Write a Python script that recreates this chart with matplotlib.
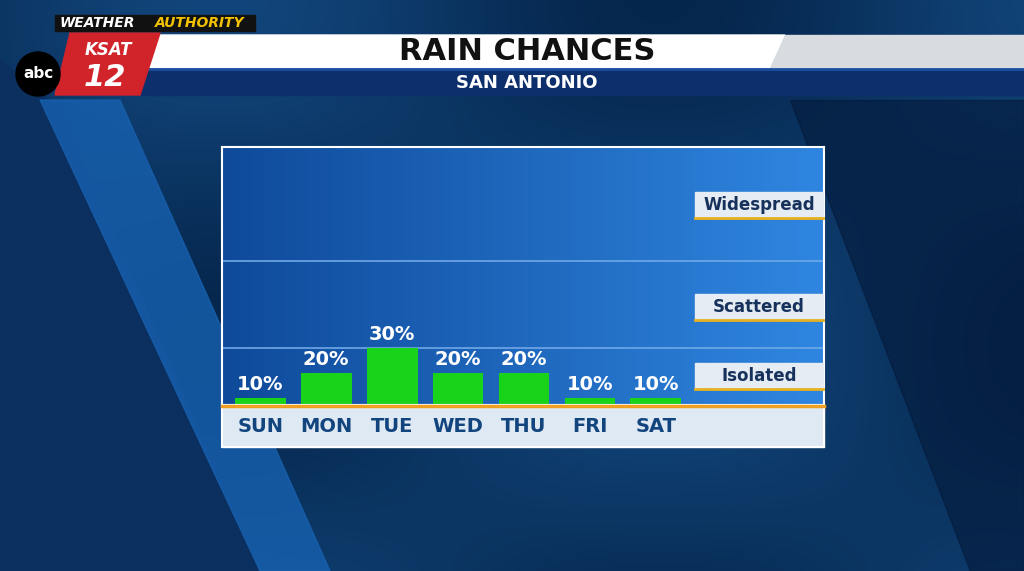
import matplotlib
matplotlib.use("Agg")
import matplotlib.pyplot as plt
import numpy as np
from matplotlib.patches import Rectangle, Polygon

days = ["SUN", "MON", "TUE", "WED", "THU", "FRI", "SAT"]
chances = [10, 20, 30, 20, 20, 10, 10]
labels = [f"{v}%" for v in chances]
bands = [("Isolated", 30), ("Scattered", 65), ("Widespread", 110.4)]

W, H = 1024, 571
fig = plt.figure(figsize=(W/100, H/100), dpi=100)
bg = fig.add_axes([0, 0, 1, 1])
bg.set_xlim(0, W); bg.set_ylim(H, 0); bg.axis("off")
yy, xx = np.mgrid[0:H, 0:W]
g = 0.5 + 0.5*np.sin(xx/140.0)*np.cos(yy/110.0)
img = np.zeros((H, W, 3))
img[..., 0] = 0.02 + 0.05*g
img[..., 1] = 0.15 + 0.12*g
img[..., 2] = 0.30 + 0.18*g
bg.imshow(img, extent=[0, W, H, 0], aspect="auto", zorder=0)
bg.add_patch(Polygon([[0, 60], [60, 110], [260, 571], [0, 571]], color="#0b2f5e", zorder=1))
bg.add_patch(Polygon([[40, 100], [120, 100], [330, 571], [260, 571]], color="#1761b0", alpha=0.8, zorder=1))
bg.add_patch(Polygon([[790, 100], [1024, 100], [1024, 571], [970, 571]], color="#04193a", alpha=0.6, zorder=1))
bg.add_patch(Polygon([[150, 35], [785, 35], [770, 68], [140, 68]], color="white", zorder=2))
bg.add_patch(Polygon([[785, 35], [1024, 35], [1024, 68], [770, 68]], color="#d8dbe0", zorder=2))
bg.add_patch(Rectangle((140, 70), 884, 25, color="#0d2f6b", zorder=2))
bg.plot([140, 1024], [69, 69], color="#1a4f9f", lw=2, zorder=3)
bg.text(527, 52, "RAIN CHANCES", ha="center", va="center", fontsize=22, weight="bold", color="#111", zorder=4)
bg.text(527, 83, "SAN ANTONIO", ha="center", va="center", fontsize=13, weight="bold", color="white", zorder=4)
bg.add_patch(Polygon([[70, 33], [160, 33], [140, 95], [55, 95]], color="#d0232a", zorder=3))
bg.text(108, 50, "KSAT", ha="center", va="center", fontsize=12, weight="bold", style="italic", color="white", zorder=4)
bg.text(105, 78, "12", ha="center", va="center", fontsize=22, weight="bold", style="italic", color="white", zorder=4)
bg.add_patch(plt.Circle((38, 74), 22, color="black", zorder=4))
bg.text(38, 74, "abc", ha="center", va="center", fontsize=11, weight="bold", color="white", zorder=5)
bg.add_patch(Rectangle((55, 15), 200, 16, color="#111", zorder=3))
bg.text(60, 23, "WEATHER", ha="left", va="center", fontsize=10, weight="bold", style="italic", color="white", zorder=4)
bg.text(155, 23, "AUTHORITY", ha="left", va="center", fontsize=10, weight="bold", style="italic", color="#f2c200", zorder=4)

L, R, T, B = 222, 824, 147, 405
ax = fig.add_axes([L/W, 1-B/H, (R-L)/W, (B-T)/H])
ax.set_xlim(-0.58, 8.55); ax.set_ylim(7.2, 110.4)
grad = np.linspace(0, 1, 256).reshape(1, -1)
ax.imshow(grad, extent=[-0.58, 8.55, 7.2, 110.4], aspect="auto",
          cmap=matplotlib.colors.LinearSegmentedColormap.from_list("b", ["#0f4a9a", "#2f86e0"]), zorder=0)
for _, top in bands[:-1]:
    ax.axhline(top, color="#6fa8e8", lw=1.2, zorder=1)
ax.bar(range(len(days)), chances, width=0.77, bottom=0, color="#19d21a", zorder=2)
for i, (v, t) in enumerate(zip(chances, labels)):
    ax.text(i, v + 1.5, t, ha="center", va="bottom", color="white", fontsize=14, weight="bold", zorder=3)
ax.set_xticks([]); ax.set_yticks([])
for s in ax.spines.values():
    s.set_color("white"); s.set_linewidth(1.5)

ov = fig.add_axes([0, 0, 1, 1])
ov.set_xlim(0, W); ov.set_ylim(H, 0); ov.axis("off"); ov.patch.set_alpha(0)
for name, ypos in zip([b[0] for b in bands], [376, 307, 205]):
    ov.add_patch(Rectangle((695, ypos-13), 128, 26, color="#e6ecf3", zorder=5))
    ov.plot([695, 823], [ypos+13, ypos+13], color="#e6b020", lw=2, zorder=6)
    ov.text(759, ypos, name, ha="center", va="center", fontsize=12, weight="bold", color="#16325c", zorder=6)
ov.add_patch(Rectangle((L, B), R-L, 42, color="#dfe9f4", zorder=5))
ov.add_patch(Rectangle((L, B), R-L, 42, fill=False, ec="white", lw=1.5, zorder=6))
ov.plot([L, R], [B+1, B+1], color="#f0a020", lw=2.5, zorder=7)
for i, d in enumerate(days):
    xp = L + (i + 0.58) / 9.13 * (R-L)
    ov.text(xp, 427, d, ha="center", va="center", fontsize=14, weight="bold", color="#12457e", zorder=7)
fig.savefig("out.png", dpi=100)
